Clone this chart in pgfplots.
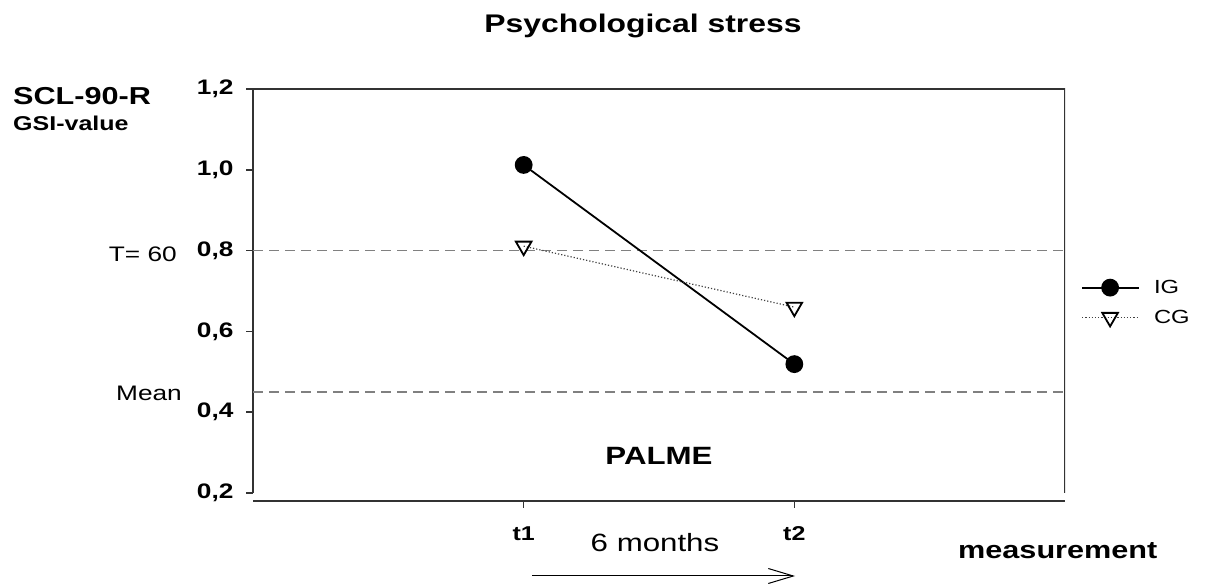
\documentclass[border=0pt]{standalone}
\usepackage{fontspec}
\setmainfont{Liberation Sans}[FakeStretch=1.25]
\usepackage{pgfplots}
\pgfplotsset{compat=1.18}
\usetikzlibrary{arrows.meta}
\newcommand{\fs}[1]{\fontsize{#1}{#1}\selectfont}
\begin{document}
\begin{tikzpicture}[x=1pt,y=1pt]
\useasboundingbox (0,0) rectangle (1209,588);
\begin{axis}[
  at={(253pt,95pt)}, anchor=south west,
  scale only axis, width=812pt, height=404pt,
  xmin=0, xmax=3, ymin=0.2, ymax=1.2,
  axis x line*=bottom, axis y line*=left,
  axis x line shift=8pt,
  axis line style={line width=2pt, black!80},
  tick align=outside, major tick length=7pt,
  tick style={line width=1.5pt, black!80},
  xtick={1,2}, xticklabels={t1,t2},
  ytick={0.2,0.4,0.6,0.8,1.0,1.2},
  /pgf/number format/assume math mode=true,
  ticklabel style={font=\bfseries\fs{21}},
  yticklabel style={xshift=-9pt, /pgf/number format/.cd, fixed, fixed zerofill, precision=1, use comma},
  xticklabel style={font=\bfseries\fs{20}, yshift=-15pt},
  legend style={at={(1.016,0.537)}, anchor=north west, draw=none, fill=none, font=\fs{19}, row sep=11pt, column sep=12pt},
  legend cell align=left,
  legend image code/.code={\draw[mark repeat=2,mark phase=2,#1] plot coordinates {(0pt,0pt) (28pt,0pt) (57pt,0pt)};},
]
\addplot[forget plot, black!50, line width=1.5pt, dash pattern=on 10pt off 6pt] coordinates {(0,0.8) (3,0.8)};
\addplot[forget plot, black!50, line width=1.5pt, dash pattern=on 10pt off 6pt] coordinates {(0,0.45) (3,0.45)};
\addplot[black, line width=1.8pt, mark=*, mark size=8pt] coordinates {(1,1.012) (2,0.519)};
\addlegendentry{IG}
\addplot[black!75, line width=1.2pt, dotted, mark=triangle, mark size=9pt, mark options={solid, black, fill=white, rotate=180, line width=1.8pt}] coordinates {(1,0.811) (2,0.660)};
\addlegendentry{CG}
\draw[line width=2pt, black!80] (rel axis cs:0,1) -- (rel axis cs:1,1) -- (rel axis cs:1,0);
\end{axis}
\node[anchor=base, inner sep=0pt, font=\bfseries\fs{25.5}] at (643,555) {Psychological stress};
\node[anchor=base west, inner sep=0pt, font=\bfseries\fs{24.5}] at (13,483) {SCL-90-R};
\node[anchor=base west, inner sep=0pt, font=\bfseries\fs{20}] at (13,457) {GSI-value};
\node[anchor=base east, inner sep=0pt, font=\fs{21}] at (177,326) {T= 60};
\node[anchor=base east, inner sep=0pt, font=\fs{21}] at (182,187) {Mean};
\node[anchor=base, inner sep=0pt, font=\bfseries\fs{25}] at (659,123) {PALME};
\node[anchor=base, inner sep=0pt, font=\fs{25}] at (655,36) {6 months};
\node[anchor=base west, inner sep=0pt, font=\bfseries\fs{24.5}] at (958,29) {measurement};
\draw[-{Straight Barb[length=25pt, width=15pt, line width=1pt]}, line width=1pt] (532,12) -- (795,12);
\end{tikzpicture}
\end{document}
